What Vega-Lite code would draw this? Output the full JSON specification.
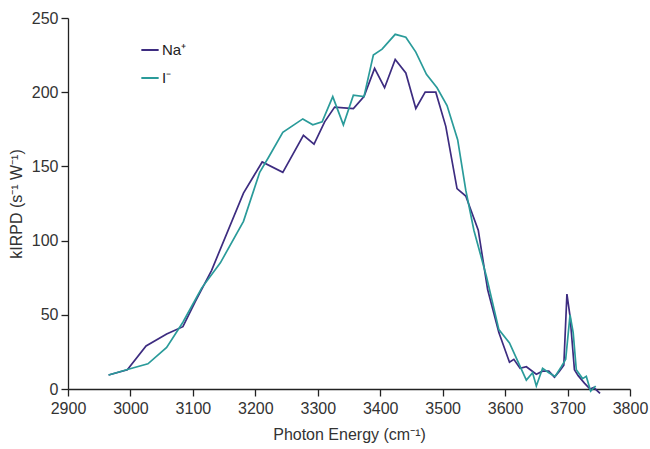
{
  "$schema": "https://vega.github.io/schema/vega-lite/v6.json",
  "autosize": "none",
  "width": 562,
  "height": 371,
  "padding": {"left": 68, "top": 18, "right": 20, "bottom": 60},
  "background": "white",
  "config": {"view": {"stroke": null}, "font": "Liberation Sans"},
  "datasets": {
    "na": [
      {"x": 2965, "y": 9.4}, {"x": 2995, "y": 13}, {"x": 3025, "y": 29}, {"x": 3058, "y": 37},
      {"x": 3084, "y": 42}, {"x": 3104, "y": 59}, {"x": 3130, "y": 80}, {"x": 3181, "y": 132}, {"x": 3211, "y": 153},
      {"x": 3244, "y": 146}, {"x": 3277, "y": 171}, {"x": 3294, "y": 165}, {"x": 3311, "y": 180},
      {"x": 3327, "y": 190}, {"x": 3357, "y": 189}, {"x": 3374, "y": 197}, {"x": 3391, "y": 216},
      {"x": 3407, "y": 203}, {"x": 3424, "y": 222}, {"x": 3441, "y": 213}, {"x": 3457, "y": 189},
      {"x": 3472, "y": 200}, {"x": 3489, "y": 200}, {"x": 3505, "y": 177}, {"x": 3523, "y": 135},
      {"x": 3537, "y": 130}, {"x": 3557, "y": 107}, {"x": 3572, "y": 67}, {"x": 3590, "y": 38},
      {"x": 3607, "y": 18}, {"x": 3614, "y": 20}, {"x": 3624, "y": 14}, {"x": 3634, "y": 15},
      {"x": 3650, "y": 10}, {"x": 3660, "y": 12}, {"x": 3670, "y": 12}, {"x": 3679, "y": 8},
      {"x": 3687, "y": 12}, {"x": 3694, "y": 16}, {"x": 3699, "y": 64}, {"x": 3704, "y": 49},
      {"x": 3711, "y": 13}, {"x": 3717, "y": 9}, {"x": 3727, "y": 4}, {"x": 3736, "y": 0},
      {"x": 3742, "y": 1}, {"x": 3752, "y": -3}
    ],
    "iod": [
      {"x": 2965, "y": 9.4}, {"x": 2998, "y": 13.5}, {"x": 3028, "y": 17}, {"x": 3058, "y": 28},
      {"x": 3084, "y": 45}, {"x": 3114, "y": 68}, {"x": 3144, "y": 85}, {"x": 3181, "y": 113},
      {"x": 3207, "y": 146}, {"x": 3221, "y": 156}, {"x": 3244, "y": 173}, {"x": 3276, "y": 182},
      {"x": 3292, "y": 178}, {"x": 3307, "y": 180}, {"x": 3324, "y": 197}, {"x": 3341, "y": 178},
      {"x": 3357, "y": 198}, {"x": 3374, "y": 197}, {"x": 3389, "y": 225}, {"x": 3403, "y": 229},
      {"x": 3424, "y": 239}, {"x": 3441, "y": 237}, {"x": 3457, "y": 227}, {"x": 3474, "y": 212},
      {"x": 3491, "y": 203}, {"x": 3507, "y": 191}, {"x": 3524, "y": 168}, {"x": 3537, "y": 134},
      {"x": 3550, "y": 107}, {"x": 3570, "y": 76}, {"x": 3590, "y": 40}, {"x": 3607, "y": 31},
      {"x": 3620, "y": 19}, {"x": 3634, "y": 6}, {"x": 3644, "y": 11}, {"x": 3650, "y": 2},
      {"x": 3660, "y": 14}, {"x": 3670, "y": 11}, {"x": 3680, "y": 8.5}, {"x": 3690, "y": 15},
      {"x": 3697, "y": 20}, {"x": 3704, "y": 50}, {"x": 3709, "y": 38}, {"x": 3714, "y": 13},
      {"x": 3724, "y": 7}, {"x": 3730, "y": 8.5}, {"x": 3737, "y": -1.5}, {"x": 3745, "y": 2}
    ]
  },
  "layer": [
    {
      "data": {"name": "na"},
      "transform": [{"calculate": "'Na⁺'", "as": "ion"}],
      "mark": {"type": "line", "strokeWidth": 1.7, "clip": false},
      "encoding": {
        "x": {"field": "x", "type": "quantitative"},
        "y": {"field": "y", "type": "quantitative"},
        "color": {"field": "ion", "type": "nominal"}
      }
    },
    {
      "data": {"name": "iod"},
      "transform": [{"calculate": "'I⁻'", "as": "ion"}],
      "mark": {"type": "line", "strokeWidth": 1.7, "clip": false},
      "encoding": {
        "x": {
          "field": "x", "type": "quantitative",
          "scale": {"domain": [2900, 3800], "nice": false, "zero": false},
          "axis": {
            "title": "Photon Energy (cm⁻¹)", "values": [2900, 3000, 3100, 3200, 3300, 3400, 3500, 3600, 3700, 3800],
            "format": "d",
            "grid": false, "domainColor": "#222", "domainWidth": 1.3, "tickColor": "#222", "tickWidth": 1.3, "tickSize": 7,
            "labelFontSize": 16, "labelColor": "#333", "labelPadding": 4, "labelFlush": false,
            "titleFontSize": 16, "titleFontWeight": "normal", "titleColor": "#333", "titlePadding": 10
          }
        },
        "y": {
          "field": "y", "type": "quantitative",
          "scale": {"domain": [0, 250], "nice": false},
          "axis": {
            "title": "kIRPD (s⁻¹ W⁻¹)", "values": [0, 50, 100, 150, 200, 250],
            "format": "d",
            "grid": false, "domainColor": "#222", "domainWidth": 1.3, "tickColor": "#222", "tickWidth": 1.3, "tickSize": 7,
            "labelFontSize": 16, "labelColor": "#333", "labelPadding": 3,
            "titleFontSize": 16, "titleFontWeight": "normal", "titleColor": "#333", "titlePadding": 7
          }
        },
        "color": {
          "field": "ion", "type": "nominal",
          "scale": {"domain": ["Na⁺", "I⁻"], "range": ["#3d2c80", "#2a9b9a"]},
          "legend": {
            "title": null, "orient": "none", "legendX": 72, "legendY": 22,
            "symbolType": "stroke", "symbolStrokeWidth": 2, "symbolSize": 300, "labelOffset": 2,
            "labelFontSize": 15, "labelColor": "#222", "rowPadding": 10
          }
        }
      }
    }
  ]
}
